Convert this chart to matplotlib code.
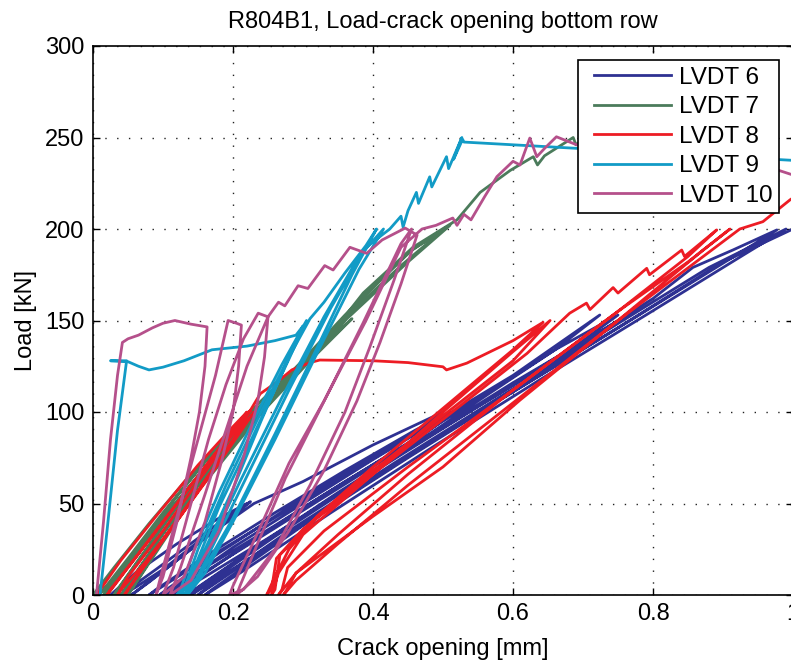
import numpy as np
import matplotlib
matplotlib.use('Agg')
import matplotlib.pyplot as plt
from matplotlib.lines import Line2D
from matplotlib.legend_handler import HandlerLine2D

# load vs crack opening, one path per LVDT (x in mm, y in kN)
lvdt6 = [
    (0.025, 0), (0.06, 12), (0.12, 28), (0.18, 42), (0.22, 50),
    (0.2, 43), (0.15, 29), (0.1, 14), (0.06, 4), (0.04, 0),
    (0.05, 3), (0.09, 14), (0.15, 31), (0.2, 45), (0.225, 51),
    (0.19, 40), (0.13, 22), (0.08, 7), (0.055, 0),
    (0.065, 3), (0.11, 16), (0.17, 34), (0.23, 50), (0.3, 62), (0.4, 82), (0.5, 100),
    (0.45, 86), (0.35, 63), (0.25, 40), (0.15, 17), (0.08, 0),
    (0.09, 3), (0.16, 21), (0.26, 45), (0.36, 68), (0.46, 90), (0.51, 100),
    (0.46, 85), (0.36, 62), (0.26, 38), (0.16, 15), (0.095, 0),
    (0.105, 3), (0.18, 23), (0.28, 48), (0.38, 71), (0.48, 93), (0.52, 101),
    (0.47, 87), (0.37, 63), (0.27, 39), (0.17, 15), (0.105, 0),
    (0.115, 3), (0.2, 26), (0.3, 50), (0.4, 74), (0.5, 97), (0.6, 120), (0.724, 153),
    (0.66, 134), (0.55, 106), (0.45, 80), (0.35, 55), (0.25, 31), (0.16, 10), (0.115, 0),
    (0.125, 3), (0.21, 25), (0.31, 50), (0.42, 76), (0.55, 107), (0.66, 134), (0.75, 153),
    (0.7, 139), (0.58, 110), (0.46, 82), (0.34, 53), (0.23, 25), (0.135, 0),
    (0.145, 3), (0.24, 28), (0.35, 56), (0.47, 85), (0.6, 116), (0.76, 152),
    (0.7, 136), (0.58, 107), (0.46, 78), (0.34, 49), (0.22, 19), (0.14, 0),
    (0.15, 3), (0.26, 32), (0.4, 67), (0.55, 103), (0.7, 138), (0.8, 162), (0.857, 179),
    (0.914, 188.5), (0.977, 199.5),
    (0.92, 186), (0.78, 153), (0.63, 118), (0.48, 83), (0.33, 46), (0.2, 13), (0.15, 0),
    (0.16, 3), (0.28, 35), (0.43, 72), (0.58, 108), (0.74, 146), (0.88, 179), (0.99, 200),
    (0.93, 186), (0.79, 153), (0.64, 118), (0.49, 82), (0.34, 45), (0.21, 12), (0.16, 0),
    (0.17, 3), (0.3, 38), (0.45, 75), (0.6, 111), (0.75, 146), (0.9, 182), (1.0, 200),
]

lvdt7 = [
    (0.0, 0), (0.03, 15), (0.08, 39), (0.14, 66), (0.2, 91), (0.23, 101),
    (0.2, 87), (0.14, 59), (0.08, 31), (0.03, 9), (0.008, 0),
    (0.015, 3), (0.05, 20), (0.1, 45), (0.16, 73), (0.235, 102),
    (0.19, 83), (0.12, 51), (0.06, 22), (0.015, 0),
    (0.02, 3), (0.06, 24), (0.12, 54), (0.18, 82), (0.24, 106), (0.3, 128), (0.36, 150),
    (0.32, 135), (0.25, 107), (0.17, 72), (0.09, 36), (0.02, 0),
    (0.025, 3), (0.1, 42), (0.18, 79), (0.27, 116), (0.37, 151),
    (0.31, 128), (0.22, 91), (0.12, 48), (0.03, 0),
    (0.035, 3), (0.12, 49), (0.22, 95), (0.3, 127), (0.386, 163), (0.457, 189), (0.505, 201),
    (0.44, 180), (0.35, 148), (0.24, 103), (0.13, 50), (0.04, 0),
    (0.045, 3), (0.14, 56), (0.25, 108), (0.36, 153), (0.45, 187), (0.51, 202),
    (0.45, 182), (0.36, 150), (0.25, 104), (0.14, 52), (0.05, 0),
    (0.055, 3), (0.15, 60), (0.25, 106), (0.314, 130), (0.386, 165), (0.457, 190),
    (0.52, 205), (0.553, 220), (0.596, 232), (0.629, 239.5), (0.635, 235), (0.645, 240),
    (0.686, 250), (0.69, 246), (0.7, 249), (0.75, 251),
]

lvdt8 = [
    (0.005, 0), (0.04, 19), (0.09, 43), (0.15, 71), (0.2, 92), (0.22, 100),
    (0.19, 85), (0.13, 55), (0.08, 30), (0.04, 10), (0.02, 0),
    (0.025, 3), (0.06, 20), (0.11, 45), (0.17, 75), (0.225, 101),
    (0.2, 88), (0.15, 62), (0.1, 35), (0.05, 10), (0.035, 0),
    (0.04, 3), (0.075, 18), (0.125, 43), (0.18, 72), (0.23, 100),
    (0.21, 90), (0.16, 62), (0.11, 35), (0.07, 14), (0.045, 0),
    (0.05, 3), (0.09, 25), (0.15, 57), (0.2, 85), (0.239, 110), (0.265, 117), (0.284, 123),
    (0.31, 127), (0.324, 128.4), (0.4, 128), (0.45, 127), (0.5, 124.7), (0.505, 123),
    (0.534, 126.7), (0.6, 139), (0.643, 149),
    (0.6, 134), (0.5, 102), (0.4, 70), (0.32, 43), (0.28, 25), (0.26, 10), (0.248, 0),
    (0.255, 3), (0.262, 20), (0.3, 36), (0.4, 68), (0.5, 98), (0.6, 128), (0.653, 150),
    (0.6, 133), (0.5, 100), (0.4, 66), (0.3, 33), (0.265, 12), (0.255, 0),
    (0.26, 3), (0.267, 22), (0.32, 42), (0.42, 72), (0.52, 102), (0.62, 132), (0.681, 154),
    (0.705, 159.5), (0.71, 156), (0.743, 168), (0.75, 165), (0.791, 178.5), (0.795, 175),
    (0.841, 188.5), (0.845, 185), (0.891, 199.5),
    (0.85, 185), (0.75, 155), (0.6, 112), (0.45, 66), (0.35, 33), (0.29, 12), (0.265, 0),
    (0.27, 3), (0.278, 15), (0.33, 35), (0.45, 70), (0.6, 112), (0.75, 155), (0.85, 182), (0.91, 200),
    (0.87, 188), (0.75, 150), (0.6, 105), (0.45, 60), (0.35, 28), (0.29, 8), (0.272, 0),
    (0.277, 3), (0.29, 12), (0.4, 43), (0.5, 70), (0.61, 106.5), (0.75, 150), (0.924, 200),
    (0.957, 204), (0.996, 216), (1.02, 222),
]

lvdt9 = [
    (0.01, 0), (0.02, 35), (0.035, 90), (0.048, 128), (0.025, 128), (0.05, 127.5),
    (0.065, 125), (0.08, 123), (0.1, 124.5), (0.13, 128), (0.17, 134), (0.22, 136),
    (0.26, 139), (0.29, 142), (0.3, 147),
    (0.28, 130), (0.24, 95), (0.2, 58), (0.16, 25), (0.135, 5), (0.12, 0),
    (0.125, 3), (0.145, 25), (0.18, 56), (0.23, 96), (0.27, 126), (0.305, 150),
    (0.28, 129), (0.23, 88), (0.18, 48), (0.145, 15), (0.125, 0),
    (0.13, 3), (0.15, 25), (0.19, 60), (0.24, 100), (0.28, 130), (0.31, 151), (0.33, 160),
    (0.36, 176), (0.39, 191), (0.405, 200),
    (0.37, 175), (0.32, 135), (0.26, 88), (0.2, 42), (0.155, 12), (0.13, 0),
    (0.135, 3), (0.16, 22), (0.21, 62), (0.27, 108), (0.33, 152), (0.38, 185), (0.415, 200),
    (0.38, 178), (0.32, 132), (0.26, 85), (0.2, 40), (0.16, 12), (0.135, 0),
    (0.14, 3), (0.165, 22), (0.22, 65), (0.28, 112), (0.34, 157), (0.39, 190), (0.424, 200),
    (0.44, 207), (0.443, 201), (0.45, 210), (0.462, 220), (0.465, 214), (0.481, 228.5),
    (0.484, 223), (0.505, 239.5), (0.508, 233), (0.527, 250), (0.515, 238), (0.528, 249),
    (0.53, 247.5), (1.0, 237.5),
]

lvdt10 = [
    (0.005, 0), (0.015, 40), (0.025, 85), (0.035, 120), (0.042, 138), (0.05, 140),
    (0.065, 142), (0.085, 146), (0.1, 148.5), (0.117, 150), (0.14, 148), (0.163, 146.5),
    (0.16, 125), (0.152, 100), (0.14, 75), (0.12, 40), (0.1, 10), (0.09, 0),
    (0.1, 15), (0.125, 50), (0.15, 85), (0.175, 120), (0.193, 150), (0.205, 148.5), (0.212, 147.5),
    (0.208, 125), (0.2, 100), (0.185, 75), (0.16, 40), (0.13, 10), (0.1, 0),
    (0.115, 15), (0.14, 50), (0.165, 85), (0.19, 115), (0.215, 140), (0.236, 154), (0.25, 152),
    (0.245, 130), (0.235, 105), (0.215, 75), (0.18, 35), (0.14, 8), (0.11, 0),
    (0.125, 15), (0.16, 55), (0.19, 90), (0.22, 125), (0.25, 152), (0.265, 160), (0.274, 158),
    (0.293, 169), (0.307, 167.5), (0.331, 180), (0.343, 177.6), (0.367, 190), (0.391, 186.7),
    (0.413, 194), (0.446, 200.5), (0.463, 196.7),
    (0.44, 170), (0.41, 138), (0.377, 106), (0.33, 68), (0.28, 35), (0.235, 10), (0.205, 0),
    (0.21, 5), (0.235, 28), (0.275, 64), (0.325, 102), (0.385, 148), (0.44, 192), (0.455, 200),
    (0.43, 172), (0.395, 135), (0.36, 100), (0.31, 60), (0.26, 25), (0.215, 3), (0.195, 0),
    (0.2, 5), (0.24, 38), (0.28, 72), (0.33, 106), (0.39, 150), (0.44, 190), (0.47, 200),
    (0.49, 202), (0.514, 206), (0.52, 202), (0.53, 208), (0.54, 205), (0.56, 218),
    (0.577, 228.6), (0.6, 237), (0.61, 235), (0.624, 249.7), (0.634, 239.5), (0.645, 244),
    (0.662, 250.4), (0.691, 246), (0.8, 242), (0.9, 237), (0.98, 232), (1.0, 229.5),
]

series = [lvdt6, lvdt7, lvdt8, lvdt9, lvdt10]
labels = ['LVDT 6', 'LVDT 7', 'LVDT 8', 'LVDT 9', 'LVDT 10']
colors = ['#2e3192', '#4b7b5b', '#ed1c24', '#129bc6', '#b5508b']

plt.rcParams['font.family'] = ['Liberation Sans', 'DejaVu Sans']

fig = plt.figure(figsize=(7.91, 6.66), dpi=100)
ax = fig.add_axes([93/791, 71/666, 700/791, 549/666])

for s, lab, c in zip(series, labels, colors):
    pts = np.array(s)
    ax.plot(pts[:, 0], pts[:, 1], color=c, lw=2, label=lab)

ax.set_xlim(0, 1)
ax.set_ylim(0, 300)
ax.set_xticks([0, 0.2, 0.4, 0.6, 0.8, 1])
ax.set_xticklabels(['0', '0.2', '0.4', '0.6', '0.8', '1'])
ax.set_yticks([0, 50, 100, 150, 200, 250, 300])
ax.tick_params(direction='in', length=5, width=1, top=True, right=True,
               labelsize=17, pad=6)
ax.grid(True, color='#222222', lw=1, linestyle=(0, (1, 7.5)))
for sp in ax.spines.values():
    sp.set_linewidth(1.2)

ax.set_title('R804B1, Load-crack opening bottom row', fontsize=17, pad=13)
ax.set_xlabel('Crack opening [mm]', fontsize=17, labelpad=9)
ax.set_ylabel('Load [kN]', fontsize=17, labelpad=6)

# inset the legend lines like the original
leg = ax.legend(loc='upper right', bbox_to_anchor=(0.98, 0.9745), borderaxespad=0,
                fontsize=17.5, fancybox=False, framealpha=1, edgecolor='black',
                handlelength=3.94, handletextpad=-0.06, labelspacing=0.31, borderpad=0.27,
                handler_map={Line2D: HandlerLine2D(numpoints=2, marker_pad=0.39)})
leg.get_frame().set_linewidth(1.2)

fig.savefig('out.png', dpi=100)
